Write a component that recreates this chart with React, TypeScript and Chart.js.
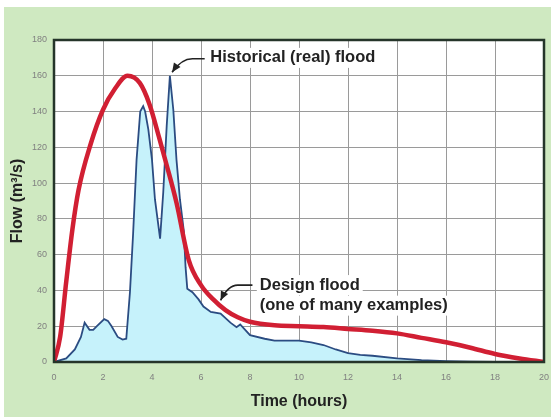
import React, { useEffect, useRef } from "react";
import { Chart, registerables } from "chart.js";

Chart.register(...registerables);

// Historical (real) flood hydrograph
const HIST_TIME = [0, 0.5, 0.85, 1.1, 1.25, 1.45, 1.6, 1.75, 2.05, 2.2, 2.35, 2.6, 2.8, 2.95, 3.1, 3.23, 3.37, 3.52, 3.64, 3.72, 3.85, 4.0, 4.12, 4.33, 4.46, 4.6, 4.73, 4.87, 5.0, 5.14, 5.3, 5.37, 5.44, 5.65, 5.9, 6.1, 6.4, 6.8, 7.2, 7.45, 7.6, 8.0, 8.6, 9.0, 10, 10.5, 11, 11.5, 12, 12.5, 13, 14, 15, 16, 17, 18, 19, 20];
const HIST_FLOW = [0, 2, 7, 14, 22, 18, 18, 20, 24, 23, 20, 14, 12.5, 13, 39, 72, 113, 140, 143, 140, 130, 113, 91, 69, 95, 132, 160, 141, 113, 91, 73, 53, 41, 39, 35, 31, 28, 27, 22, 19.5, 21, 15, 13, 12, 12, 11, 9.5, 7, 5, 4, 3.5, 2, 1, 0.5, 0.2, 0, 0, 0];

// Design flood (one of many examples)
const DESIGN_TIME = [0, 0.25, 0.5, 0.75, 1, 1.5, 2, 2.5, 3, 3.5, 3.9, 4.3, 4.6, 5, 5.5, 6, 6.5, 7, 7.5, 8, 9, 10, 11, 12, 13, 14, 15, 16, 17, 18, 19, 20];
const DESIGN_FLOW = [0, 14, 45, 74, 96, 122, 141, 153, 160, 156, 144, 125, 110, 89, 57, 43, 35, 29, 25, 22.5, 20.5, 20, 19.5, 18.5, 17.5, 16, 13.5, 11, 8, 4.5, 2, 0];

const X_MIN = 0, X_MAX = 20, X_STEP = 2;
const Y_MIN = 0, Y_MAX = 180, Y_STEP = 20;

const X_TITLE = "Time (hours)";
const Y_TITLE = "Flow (m³/s)";
const HIST_LABEL = "Historical (real) flood";
const DESIGN_LABEL = ["Design flood", "(one of many examples)"];

const FONT = "'Liberation Sans', Arial, Helvetica, sans-serif";

const decorPlugin = {
  id: "decor",
  beforeDraw(chart: any) {
    const { ctx, width, height, chartArea } = chart;
    ctx.save();
    ctx.fillStyle = "#ffffff";
    ctx.fillRect(0, 0, width, height);
    ctx.fillStyle = "#cfe9c1";
    ctx.fillRect(4, 7, width - 4, height - 7);
    ctx.fillStyle = "#ffffff";
    ctx.fillRect(chartArea.left, chartArea.top, chartArea.right - chartArea.left, chartArea.bottom - chartArea.top);
    ctx.restore();
  },
  afterDatasetsDraw(chart: any) {
    const { ctx, chartArea, scales } = chart;
    const xs = scales.x, ys = scales.y;
    const px = (v: number) => xs.getPixelForValue(v);
    const py = (v: number) => ys.getPixelForValue(v);
    ctx.save();
    ctx.strokeStyle = "#25352a";
    ctx.lineWidth = 2.5;
    ctx.strokeRect(chartArea.left, chartArea.top, chartArea.right - chartArea.left, chartArea.bottom - chartArea.top);

    ctx.font = `bold 16.5px ${FONT}`;
    ctx.textBaseline = "middle";
    ctx.textAlign = "left";

    const label = (text: string, x: number, y: number) => {
      const w = ctx.measureText(text).width;
      ctx.fillStyle = "#ffffff";
      ctx.fillRect(x - 3, y - 10, w + 6, 20);
      ctx.fillStyle = "#222222";
      ctx.fillText(text, x, y);
    };

    const arrow = (pts: number[][], tip: number[]) => {
      ctx.strokeStyle = "#222222";
      ctx.lineWidth = 1.6;
      ctx.beginPath();
      ctx.moveTo(pts[0][0], pts[0][1]);
      ctx.lineTo(pts[1][0], pts[1][1]);
      ctx.quadraticCurveTo(pts[2][0], pts[2][1], tip[0], tip[1]);
      ctx.stroke();
      const dx = tip[0] - pts[2][0], dy = tip[1] - pts[2][1];
      const a = Math.atan2(dy, dx);
      const L = 9, W = 4;
      ctx.fillStyle = "#222222";
      ctx.beginPath();
      ctx.moveTo(tip[0], tip[1]);
      ctx.lineTo(tip[0] - L * Math.cos(a) + W * Math.sin(a), tip[1] - L * Math.sin(a) - W * Math.cos(a));
      ctx.lineTo(tip[0] - L * Math.cos(a) - W * Math.sin(a), tip[1] - L * Math.sin(a) + W * Math.cos(a));
      ctx.closePath();
      ctx.fill();
    };

    label(HIST_LABEL, px(6.38), py(170));
    arrow(
      [[px(6.15), py(169.5)], [px(5.65), py(169.5)], [px(5.2), py(169.5)]],
      [px(4.82), py(162)]
    );

    label(DESIGN_LABEL[0], px(8.4), py(43));
    label(DESIGN_LABEL[1], px(8.4), py(31.5));
    arrow(
      [[px(8.1), py(43)], [px(7.5), py(43)], [px(7.1), py(43)]],
      [px(6.8), py(34.5)]
    );
    ctx.restore();
  },
};

export default function App() {
  const ref = useRef<HTMLCanvasElement | null>(null);
  useEffect(() => {
    if (!ref.current) return;
    const chart = new Chart(ref.current, {
      type: "line",
      data: {
        datasets: [
          {
            label: "Design flood",
            data: DESIGN_TIME.map((t, i) => ({ x: t, y: DESIGN_FLOW[i] })),
            borderColor: "#d11f33",
            borderWidth: 4.5,
            pointRadius: 0,
            fill: false,
            cubicInterpolationMode: "monotone",
            order: 0,
          },
          {
            label: "Historical flood",
            data: HIST_TIME.map((t, i) => ({ x: t, y: HIST_FLOW[i] })),
            borderColor: "#2b4c82",
            borderWidth: 1.8,
            backgroundColor: "#c6f2fb",
            pointRadius: 0,
            fill: "origin",
            tension: 0,
            order: 1,
          },
        ],
      },
      options: {
        responsive: false,
        animation: false,
        events: [],
        layout: { padding: { left: 4, top: 40, right: 7, bottom: 0 } },
        plugins: { legend: { display: false }, tooltip: { enabled: false } },
        scales: {
          x: {
            type: "linear",
            min: X_MIN,
            max: X_MAX,
            ticks: { stepSize: X_STEP, color: "#808080", font: { size: 9, family: FONT }, padding: 10, maxRotation: 0 },
            grid: { color: "#9a9a9a", lineWidth: 1, drawTicks: false },
            border: { display: false },
            title: {
              display: true,
              text: X_TITLE,
              color: "#222222",
              font: { size: 16, weight: "bold", family: FONT },
              padding: { top: 4, bottom: 5.4 },
            },
            afterFit: (s: any) => { s.height = 55; s.paddingRight = 0; },
          },
          y: {
            type: "linear",
            min: Y_MIN,
            max: Y_MAX,
            ticks: { stepSize: Y_STEP, color: "#808080", font: { size: 9, family: FONT }, padding: 7 },
            grid: { color: "#9a9a9a", lineWidth: 1, drawTicks: false },
            border: { display: false },
            title: {
              display: true,
              text: Y_TITLE,
              color: "#222222",
              font: { size: 16, weight: "bold", family: FONT },
              padding: { top: 4.4, bottom: 0 },
            },
            afterFit: (s: any) => { s.width = 50; },
          },
        },
      },
      plugins: [decorPlugin],
    } as any);
    return () => chart.destroy();
  }, []);
  return (
    <div style={{ position: "fixed", left: 0, top: 0, width: 551, height: 417 }}>
      <canvas ref={ref} width={551} height={417} style={{ width: 551, height: 417, display: "block" }} />
    </div>
  );
}
